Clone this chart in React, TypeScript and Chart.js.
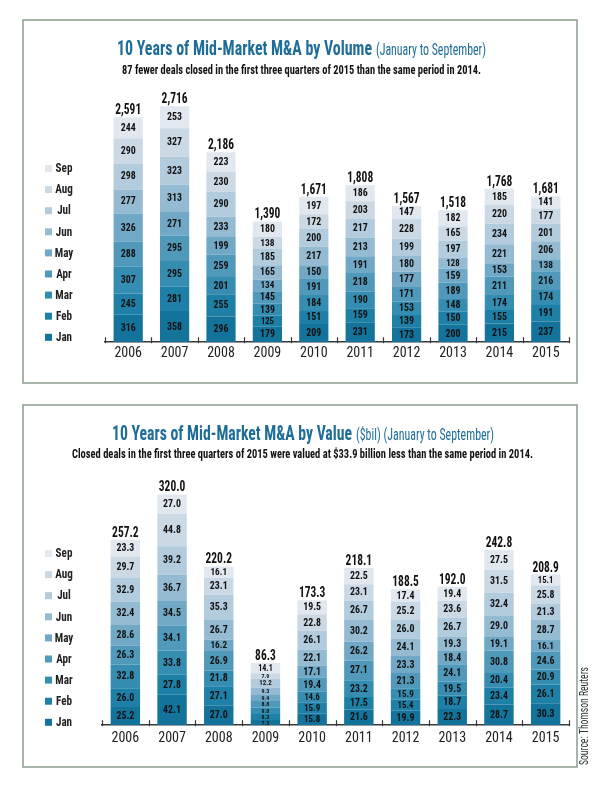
import React, { useEffect, useRef } from "react";
import { Chart, registerables } from "chart.js";
Chart.register(...registerables);

// ---------- data ----------
const YEARS = ["2006", "2007", "2008", "2009", "2010", "2011", "2012", "2013", "2014", "2015"];
const MONTHS = ["Jan", "Feb", "Mar", "Apr", "May", "Jun", "Jul", "Aug", "Sep"];

// Volume (number of deals) per month, 2006..2015
const VOL_JAN = [316, 358, 296, 179, 209, 231, 173, 200, 215, 237];
const VOL_FEB = [245, 281, 255, 125, 151, 159, 139, 150, 155, 191];
const VOL_MAR = [307, 295, 201, 139, 184, 190, 153, 148, 174, 174];
const VOL_APR = [288, 295, 259, 145, 191, 218, 171, 189, 211, 216];
const VOL_MAY = [326, 271, 199, 134, 150, 191, 177, 159, 153, 138];
const VOL_JUN = [277, 313, 233, 165, 217, 213, 180, 128, 221, 206];
const VOL_JUL = [298, 323, 290, 185, 200, 217, 199, 197, 234, 201];
const VOL_AUG = [290, 327, 230, 138, 172, 203, 228, 165, 220, 177];
const VOL_SEP = [244, 253, 223, 180, 197, 186, 147, 182, 185, 141];

// Value ($bil) per month, 2006..2015
const VAL_JAN = [25.2, 42.1, 27.0, 7.3, 15.8, 21.6, 19.9, 22.3, 28.7, 30.3];
const VAL_FEB = [26.0, 27.8, 27.1, 8.3, 15.9, 17.5, 15.4, 18.7, 23.4, 26.1];
const VAL_MAR = [32.8, 33.8, 21.8, 9.0, 14.6, 23.2, 15.9, 19.5, 20.4, 20.9];
const VAL_APR = [26.3, 34.1, 26.9, 8.8, 19.4, 27.1, 21.3, 24.1, 30.8, 24.6];
const VAL_MAY = [28.6, 34.5, 16.2, 9.4, 17.1, 26.2, 23.3, 18.4, 19.1, 16.1];
const VAL_JUN = [32.4, 36.7, 26.7, 9.3, 22.1, 30.2, 24.1, 19.3, 29.0, 28.7];
const VAL_JUL = [32.9, 39.2, 35.3, 12.2, 26.1, 26.7, 26.0, 26.7, 32.4, 21.3];
const VAL_AUG = [29.7, 44.8, 23.1, 7.9, 22.8, 23.1, 25.2, 23.6, 31.5, 25.8];
const VAL_SEP = [23.3, 27.0, 16.1, 14.1, 19.5, 22.5, 17.4, 19.4, 27.5, 15.1];

const VOL_SERIES = [VOL_JAN, VOL_FEB, VOL_MAR, VOL_APR, VOL_MAY, VOL_JUN, VOL_JUL, VOL_AUG, VOL_SEP];
const VAL_SERIES = [VAL_JAN, VAL_FEB, VAL_MAR, VAL_APR, VAL_MAY, VAL_JUN, VAL_JUL, VAL_AUG, VAL_SEP];

const MONTH_COLORS = [
  "#14739b", "#1f80a7", "#368db2", "#5199bb", "#70a8c6",
  "#95bbd3", "#b2cbdd", "#cbd9e5", "#e1e8ef",
];

// ---------- styling ----------
const FONT = '"Liberation Sans Narrow", "Roboto Condensed", "DejaVu Sans Condensed", "Arial Narrow", "Liberation Sans", sans-serif';
const TITLE_BLUE = "#1d6d98";
const BORDER = "#8a9e8c";

function drawFit(ctx: CanvasRenderingContext2D, text: string, x: number, y: number, font: string, width: number, align: CanvasTextAlign = "left") {
  ctx.save();
  ctx.font = font;
  const w = ctx.measureText(text).width;
  const s = width / w;
  ctx.translate(x, y);
  ctx.scale(s, 1);
  ctx.textAlign = align;
  ctx.fillText(text, 0, 0);
  ctx.restore();
}

function drawNarrow(ctx: CanvasRenderingContext2D, text: string, x: number, y: number, font: string, digitW: number) {
  ctx.save();
  ctx.font = font;
  const dw = ctx.measureText("0").width;
  const s = Math.min(1, digitW / dw);
  ctx.translate(x, y);
  ctx.scale(s, 1);
  ctx.textAlign = "center";
  ctx.fillText(text, 0, 0);
  ctx.restore();
}

type PanelCfg = {
  series: number[][];
  height: number;
  padL: number; padR: number; padT: number; padB: number;
  yMax: number; tickPad: number;
  border: [number, number, number, number];
  title: string; titleX: number; titleW: number;
  suffix: string; suffixX: number; suffixW: number; titleY: number;
  subtitle: string; subX: number; subW: number; subY: number;
  legendTop: number; legendStep: number;
  source?: { text: string; x: number; y: number; w: number };
  fmtSeg: (v: number) => string;
  fmtTotal: (v: number) => string;
};

function makePlugin(cfg: PanelCfg) {
  return {
    id: "panelDecor",
    beforeDraw(chart: any) {
      const ctx: CanvasRenderingContext2D = chart.ctx;
      ctx.save();
      ctx.fillStyle = "#ffffff";
      ctx.fillRect(0, 0, chart.width, chart.height);
      const [x0, y0, x1, y1] = cfg.border;
      ctx.strokeStyle = BORDER;
      ctx.lineWidth = 1.5;
      ctx.strokeRect(x0, y0, x1 - x0, y1 - y0);
      ctx.restore();
    },
    afterDatasetsDraw(chart: any) {
      const ctx: CanvasRenderingContext2D = chart.ctx;
      ctx.save();
      ctx.fillStyle = "#111";
      ctx.textBaseline = "middle";
      const n = chart.data.datasets.length;
      for (let d = 0; d < n; d++) {
        const meta = chart.getDatasetMeta(d);
        meta.data.forEach((bar: any, i: number) => {
          const v = chart.data.datasets[d].data[i] as number;
          const h = Math.abs(bar.base - bar.y);
          const fs = h >= 12 ? 10 : Math.max(6, h * 0.8);
          const dw = h >= 12 ? 5 : fs * 0.5;
          drawNarrow(ctx, cfg.fmtSeg(v), bar.x, (bar.y + bar.base) / 2 + 0.5, `bold ${fs}px ${FONT}`, dw);
        });
      }
      // totals
      const top = chart.getDatasetMeta(n - 1);
      ctx.textBaseline = "alphabetic";
      top.data.forEach((bar: any, i: number) => {
        let total = 0;
        for (let d = 0; d < n; d++) total += chart.data.datasets[d].data[i] as number;
        drawNarrow(ctx, cfg.fmtTotal(total), bar.x, bar.y - 3, `bold 14px ${FONT}`, 5.8);
      });
      ctx.restore();
    },
    afterDraw(chart: any) {
      const ctx: CanvasRenderingContext2D = chart.ctx;
      const area = chart.chartArea;
      ctx.save();
      // tick marks between categories
      const xs = chart.scales.x;
      const cat = (area.right - area.left) / YEARS.length;
      ctx.strokeStyle = "#3a3a3a";
      ctx.lineWidth = 1.2;
      for (let k = 0; k <= YEARS.length; k++) {
        const x = Math.round(area.left + k * cat) + 0.5;
        ctx.beginPath();
        ctx.moveTo(x, area.bottom - 5);
        ctx.lineTo(x, area.bottom + 1);
        ctx.stroke();
      }
      // titles
      ctx.textBaseline = "alphabetic";
      ctx.fillStyle = TITLE_BLUE;
      drawFit(ctx, cfg.title, cfg.titleX, cfg.titleY, `bold 21px ${FONT}`, cfg.titleW);
      drawFit(ctx, cfg.suffix, cfg.suffixX, cfg.titleY, `17px ${FONT}`, cfg.suffixW);
      ctx.fillStyle = "#111";
      drawFit(ctx, cfg.subtitle, cfg.subX, cfg.subY, `bold 12px ${FONT}`, cfg.subW);
      // legend (top = Sep ... bottom = Jan)
      ctx.textBaseline = "middle";
      for (let m = MONTHS.length - 1, row = 0; m >= 0; m--, row++) {
        const y = cfg.legendTop + row * cfg.legendStep;
        ctx.fillStyle = MONTH_COLORS[m];
        ctx.fillRect(45, y - 4, 7, 7);
        ctx.fillStyle = "#222";
        drawNarrow(ctx, MONTHS[m], 56 + 8, y, `bold 13px ${FONT}`, 5.6);
      }
      if (cfg.source) {
        const s = cfg.source;
        ctx.save();
        ctx.translate(s.x, s.y);
        ctx.rotate(-Math.PI / 2);
        ctx.fillStyle = "#333";
        ctx.textBaseline = "middle";
        drawFit(ctx, s.text, -s.w / 2, 0, `12px ${FONT}`, s.w);
        ctx.restore();
      }
      ctx.restore();
    },
  };
}

function Panel({ cfg, top }: { cfg: PanelCfg; top: number }) {
  const ref = useRef<HTMLCanvasElement | null>(null);
  useEffect(() => {
    if (!ref.current) return;
    const chart = new Chart(ref.current, {
      type: "bar",
      data: {
        labels: YEARS,
        datasets: cfg.series.map((arr, m) => ({
          label: MONTHS[m],
          data: arr,
          backgroundColor: MONTH_COLORS[m],
          borderWidth: 0,
          barPercentage: 0.63,
          categoryPercentage: 1,
        })),
      },
      options: {
        responsive: false,
        animation: false,
        devicePixelRatio: 1,
        layout: { padding: { left: cfg.padL, right: cfg.padR, top: cfg.padT, bottom: cfg.padB } },
        plugins: { legend: { display: false }, tooltip: { enabled: false }, title: { display: false } },
        scales: {
          x: {
            stacked: true,
            grid: { display: false, drawTicks: false },
            border: { display: true, color: "#3a3a3a", width: 1.5 },
            ticks: { color: "#222", font: { family: FONT, size: 14 }, padding: cfg.tickPad, maxRotation: 0, autoSkip: false },
          },
          y: { stacked: true, display: false, min: 0, max: cfg.yMax },
        },
      },
      plugins: [makePlugin(cfg)],
    } as any);
    return () => chart.destroy();
  }, []);
  return (
    <canvas
      ref={ref}
      width={600}
      height={cfg.height}
      style={{ position: "absolute", left: 0, top, width: 600, height: cfg.height }}
    />
  );
}

const VOLUME_CFG: PanelCfg = {
  series: VOL_SERIES,
  height: 395,
  padL: 105, padR: 31, padT: 99, padB: 30,
  yMax: 2800, tickPad: 3,
  border: [23, 20, 577, 383],
  title: "10 Years of Mid-Market M&A by Volume", titleX: 117, titleW: 255,
  suffix: "(January to September)", suffixX: 376, suffixW: 110, titleY: 55,
  subtitle: "87 fewer deals closed in the first three quarters of 2015 than the same period in 2014.",
  subX: 122, subW: 359, subY: 74,
  legendTop: 169, legendStep: 21.1,
  fmtSeg: (v) => String(v),
  fmtTotal: (v) => Math.round(v).toLocaleString("en-US"),
};

const VALUE_CFG: PanelCfg = {
  series: VAL_SERIES,
  height: 405,
  padL: 102, padR: 31, padT: 85, padB: 48,
  yMax: 340, tickPad: 5,
  border: [23, 10, 577, 372],
  title: "10 Years of Mid-Market M&A by Value", titleX: 112, titleW: 240,
  suffix: "($bil) (January to September)", suffixX: 356, suffixW: 138, titleY: 45,
  subtitle: "Closed deals in the first three quarters of 2015 were valued at $33.9 billion less than the same period in 2014.",
  subX: 72, subW: 461, subY: 63,
  legendTop: 159, legendStep: 21.1,
  source: { text: "Source: Thomson Reuters", x: 585, y: 321, w: 98 },
  fmtSeg: (v) => v.toFixed(1),
  fmtTotal: (v) => v.toFixed(1),
};

export default function App() {
  return (
    <div style={{ position: "absolute", left: 0, top: 0, width: 600, height: 800, background: "#fff" }}>
      <Panel cfg={VOLUME_CFG} top={0} />
      <Panel cfg={VALUE_CFG} top={395} />
    </div>
  );
}
